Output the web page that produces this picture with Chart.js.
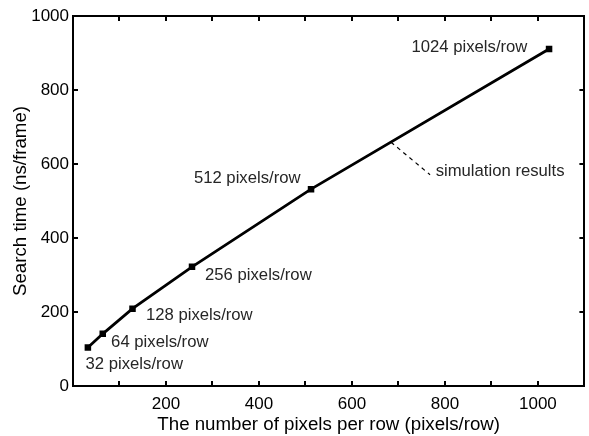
<!DOCTYPE html>
<html>
<head>
<meta charset="utf-8">
<script src="https://cdn.jsdelivr.net/npm/chart.js@4"></script>
<style>
  html, body { margin: 0; padding: 0; background: #fff; }
  canvas { display: block; }
</style>
</head>
<body>
<canvas id="searchChart" width="589" height="436"></canvas>
<script>
// measured points
const pixelsPerRow = [32, 64, 128, 256, 512, 1024];
const searchTime = [104, 141, 209, 322, 532, 911];

// point labels, anchored in data units (left edge, vertical middle)
const labelText = ['32 pixels/row', '64 pixels/row', '128 pixels/row', '256 pixels/row', '512 pixels/row', '1024 pixels/row'];
const labelX = [27, 82, 157, 284, 260, 728];
const labelY = [58, 119, 191, 299, 562, 916];

// "simulation results" callout
const calloutText = 'simulation results';
const calloutLineX = [684, 768];
const calloutLineY = [659, 571];
const calloutTextX = 780;
const calloutTextY = 579;

const FONT = '"Liberation Sans", Arial, Helvetica, sans-serif';

// draws the text labels and the dashed leader line
const annotations = {
  id: 'annotations',
  afterDatasetsDraw(chart) {
    const ctx = chart.ctx;
    const xs = chart.scales.x;
    const ys = chart.scales.y;
    ctx.save();
    ctx.font = '16.7px ' + FONT;
    ctx.fillStyle = '#262626';
    ctx.textAlign = 'left';
    ctx.textBaseline = 'middle';
    for (let i = 0; i < labelText.length; i++) {
      ctx.fillText(labelText[i], xs.getPixelForValue(labelX[i]), ys.getPixelForValue(labelY[i]));
    }
    ctx.fillText(calloutText, xs.getPixelForValue(calloutTextX), ys.getPixelForValue(calloutTextY));

    ctx.strokeStyle = '#000';
    ctx.lineWidth = 1.2;
    ctx.setLineDash([4, 4]);
    ctx.beginPath();
    ctx.moveTo(xs.getPixelForValue(calloutLineX[0]), ys.getPixelForValue(calloutLineY[0]));
    ctx.lineTo(xs.getPixelForValue(calloutLineX[1]), ys.getPixelForValue(calloutLineY[1]));
    ctx.stroke();
    ctx.restore();
  }
};

const tickGrid = {
  drawOnChartArea: false,
  drawTicks: true,
  tickLength: -5,
  lineWidth: 2,
  color: '#000'
};
const axisBorder = { display: true, width: 2, color: '#000' };

// keep the plot box fixed, no extra padding for edge labels
const fixH = (h) => (s) => { s.height = h; s.paddingLeft = 0; s.paddingRight = 0; };
const fixW = (w) => (s) => { s.width = w; s.paddingTop = 0; s.paddingBottom = 0; };

const ctx = document.getElementById('searchChart').getContext('2d');
const searchChart = new Chart(ctx, {
  type: 'line',
  data: {
    datasets: [{
      label: 'simulation results',
      data: pixelsPerRow.map((px, i) => ({ x: px, y: searchTime[i] })),
      borderColor: '#000',
      backgroundColor: '#000',
      borderWidth: 2.8,
      pointStyle: 'rect',
      pointRadius: 4.6,
      pointBorderWidth: 0,
      tension: 0,
      fill: false
    }]
  },
  options: {
    responsive: false,
    devicePixelRatio: 1,
    animation: false,
    layout: { padding: { top: 16, right: 3, left: 0, bottom: 0 } },
    plugins: {
      legend: { display: false },
      tooltip: { enabled: false }
    },
    scales: {
      x: {
        type: 'linear',
        position: 'bottom',
        min: 0,
        max: 1100,
        grid: tickGrid,
        border: axisBorder,
        ticks: {
          stepSize: 100,
          maxRotation: 0,
          autoSkip: false,
          padding: 13,
          color: '#000',
          font: { family: FONT, size: 17 },
          callback: (v) => (v % 200 === 0 && v > 0 && v <= 1000) ? String(v) : ''
        },
        title: {
          display: true,
          text: 'The number of pixels per row (pixels/row)',
          color: '#000',
          font: { family: FONT, size: 18.7 },
          padding: { top: 0, bottom: 0 }
        },
        afterFit: fixH(50)
      },
      x2: {
        type: 'linear',
        position: 'top',
        min: 0,
        max: 1100,
        grid: tickGrid,
        border: axisBorder,
        ticks: { stepSize: 100, display: false },
        afterFit: fixH(0)
      },
      y: {
        type: 'linear',
        position: 'left',
        min: 0,
        max: 1000,
        grid: tickGrid,
        border: axisBorder,
        ticks: {
          stepSize: 200,
          padding: 9,
          color: '#000',
          font: { family: FONT, size: 17 },
          callback: (v) => String(v)
        },
        title: {
          display: true,
          text: 'Search time (ns/frame)',
          color: '#000',
          font: { family: FONT, size: 18.7 },
          padding: { top: 10, bottom: 0 }
        },
        afterFit: fixW(73)
      },
      y2: {
        type: 'linear',
        position: 'right',
        min: 0,
        max: 1000,
        grid: tickGrid,
        border: axisBorder,
        ticks: { stepSize: 200, display: false },
        afterFit: fixW(0)
      }
    }
  },
  plugins: [annotations]
});
</script>
</body>
</html>
